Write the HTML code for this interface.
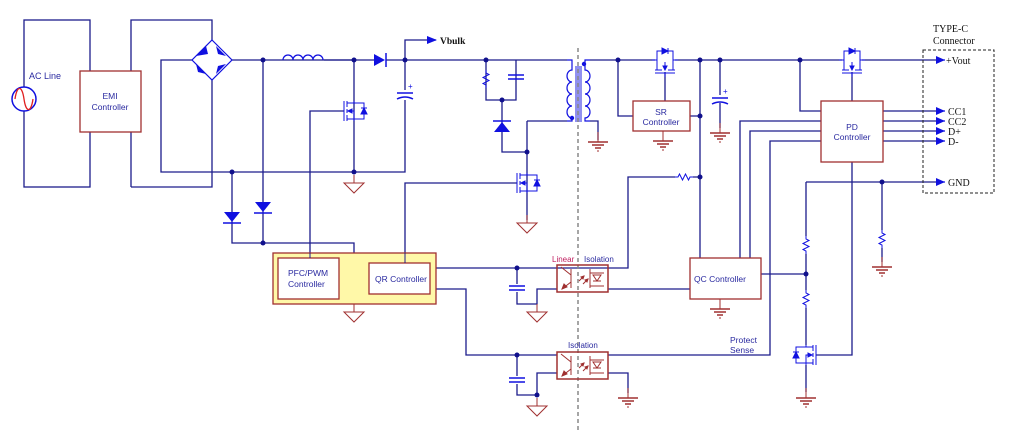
<!DOCTYPE html>
<html><head><meta charset="utf-8"><style>
html,body{margin:0;padding:0;background:#fff;}
svg{display:block;font-family:"Liberation Sans",sans-serif;}
</style></head><body>
<svg width="1012" height="434" viewBox="0 0 1012 434" xmlns="http://www.w3.org/2000/svg">
<defs>
<marker id="ar" markerWidth="10" markerHeight="8" refX="9" refY="4" orient="auto" markerUnits="userSpaceOnUse"><path d="M0,0 L10,4 L0,8 z" fill="#1010e0"/></marker>
<g id="gnd"><line x1="0" y1="0" x2="0" y2="8" stroke="#a03030"/><path d="M-10,8 L10,8 L0,18 z" fill="none" stroke="#a03030"/></g>
<g id="egnd"><line x1="0" y1="0" x2="0" y2="10" stroke="#a03030"/><line x1="-10" y1="10" x2="10" y2="10" stroke="#a03030" stroke-width="1.5"/><line x1="-6" y1="13" x2="6" y2="13" stroke="#a03030" stroke-width="1.5"/><line x1="-3" y1="16" x2="3" y2="16" stroke="#a03030" stroke-width="1.5"/><line x1="-1" y1="19" x2="1" y2="19" stroke="#a03030"/></g>
<g id="res"><path d="M0,0 L0,3 L3,4.5 L-3,7.5 L3,10.5 L-3,13.5 L0,15 L0,18" fill="none" stroke="#1010e0"/></g>
<g id="hres"><path d="M0,0 L3,0 L4.5,-3 L7.5,3 L10.5,-3 L13.5,3 L15,0 L18,0" fill="none" stroke="#1010e0"/></g>
<g id="cap"><line x1="-8" y1="-2" x2="8" y2="-2" stroke="#1010e0" stroke-width="1.5"/><line x1="-8" y1="2" x2="8" y2="2" stroke="#1010e0" stroke-width="1.5"/></g>
<g id="pcap"><line x1="-8" y1="-2" x2="8" y2="-2" stroke="#1010e0" stroke-width="1.5"/><path d="M-8,4 Q0,0 8,4" fill="none" stroke="#1010e0" stroke-width="1.5"/><text x="3" y="-6" font-size="8" fill="#1010e0">+</text></g>
<g id="nmos" stroke="#1010e0" fill="none"><line x1="-10" y1="-10" x2="-10" y2="10"/><line x1="-7" y1="-10" x2="-7" y2="-4"/><line x1="-7" y1="-2" x2="-7" y2="2"/><line x1="-7" y1="4" x2="-7" y2="10"/><path d="M-7,-8 L0,-8 L0,-10 M-7,8 L0,8 L0,10 M-7,0 L0,0 L0,8"/><path d="M-6,0 L-2,-2 L-2,2 z" fill="#1010e0"/><path d="M0,-8 L10,-8 L10,8 L0,8"/><path d="M7,3 L13,3 L10,-3 z" fill="#1010e0"/><line x1="7" y1="-3" x2="13" y2="-3"/></g>
<g id="pmos" stroke="#1010e0" fill="none"><line x1="-10" y1="5" x2="10" y2="5"/><line x1="-10" y1="2" x2="-3" y2="2"/><line x1="3" y1="2" x2="10" y2="2"/><path d="M-8,2 L-8,-8 L-13,-8 M8,2 L8,-8 L13,-8 M0,2 L0,-6"/><path d="M-2,-2 L2,-2 L0,2 z" fill="#1010e0"/><path d="M-8,-8 L-8,-17 L8,-17 L8,-8"/><path d="M-3,-20 L-3,-14 L3,-17 z" fill="#1010e0"/><line x1="3" y1="-20" x2="3" y2="-14"/><line x1="0" y1="5" x2="0" y2="9"/></g>
<g id="opto" stroke="#a03030" fill="none"><rect x="0" y="0" width="51" height="27" stroke-width="1.5"/><line x1="14" y1="4" x2="14" y2="23"/><path d="M14,10 L4,2 M14,17 L5,24"/><path d="M5,24 L7,19 L10,22 z" fill="#a03030"/><path d="M22,16 L27,11 M26,19 L31,14" /><path d="M27,11 L24,12 L26,14 z M31,14 L28,15 L30,17 z" fill="#a03030"/><path d="M33,4 L33,23 M33,8 L47,8 M33,21 L47,21"/><path d="M36,10 L44,10 L40,16 z"/><line x1="36" y1="16" x2="44" y2="16"/></g>
</defs>
<g fill="none" stroke="#1c1c8c" stroke-width="1.3">
<rect x="24" y="20" width="66" height="167"/>
<path d="M131,187 L131,20 L212,20 L212,40 M212,80 L212,187 L131,187"/>
<path d="M192,60 L161,60 L161,172 L405,172 L405,100"/>
<path d="M232,60 L354,60"/>
<path d="M324,60 L374,60 M386,60 L567,60"/>
<path d="M405,60 L405,40 L436,40" marker-end="url(#ar)"/>
<path d="M263,60 L263,243 M232,172 L232,243 L354,243 L354,253"/>
<path d="M354,60 L354,172 M405,60 L405,90"/>
<path d="M310,260 L310,111 L344,111"/>
<path d="M486,60 L486,100 L516,100 L516,60 M502,100 L502,152 L527,152 M527,121 L567,121 M527,121 L527,220"/>
<path d="M405,263 L405,183 L517,183"/>
<path d="M436,268 L628,268 L628,177 L675,177 M693,177 L700,177"/>
<path d="M436,289 L466,289 L466,355 L557,355"/>
<path d="M517,268 L517,284 M517,292 L517,304 L537,304 L537,289 L557,289"/>
<path d="M517,355 L517,376 M517,384 L517,395 L537,395 L537,373 L557,373"/>
<path d="M608,289 L690,289 M608,373 L628,373 L628,393"/>
<path d="M608,355 L770,355 L770,141 L821,141 M740,258 L740,121 L821,121 M750,258 L750,131 L821,131 M700,258 L700,60"/>
<path d="M590,60 L655,60 M675,60 L842,60 M862,60 L938,60"/>
<path d="M590,121 L598,121 L598,140"/>
<path d="M618,60 L618,116 L633,116 M690,116 L700,116 M665,72 L665,101 M720,60 L720,95 M720,103 L720,128"/>
<path d="M800,60 L800,111 L821,111 M852,72 L852,101"/>
<path d="M883,111 L938,111 M883,121 L938,121 M883,131 L938,131 M883,141 L938,141"/>
<path d="M806,182 L938,182 M806,182 L806,236 M806,254 L806,290 M806,308 L806,345 M806,365 L806,392 M882,182 L882,230 M882,248 L882,262"/>
<path d="M852,162 L852,355 L816,355 M761,274 L806,274"/>
</g>
<g stroke="#1010e0" stroke-width="1.3" fill="none">
<path d="M938,60 L945,60 M938,111 L945,111 M938,121 L945,121 M938,131 L945,131 M938,141 L945,141 M938,182 L945,182"/>
</g>
<g fill="#1010e0">
<path d="M936,56 L945,60 L936,64z M936,107 L945,111 L936,115z M936,117 L945,121 L936,125z M936,127 L945,131 L936,135z M936,137 L945,141 L936,145z M936,178 L945,182 L936,186z"/>
</g>
<circle cx="24" cy="99" r="12" fill="#fff" stroke="#1010e0" stroke-width="1.5"/>
<path d="M15,99 C17,85 22,85 24,99 C26,113 31,113 33,99" fill="none" stroke="#e02020" stroke-width="1.3"/>
<text x="29" y="79" font-size="9" fill="#2a2aa0">AC Line</text>
<rect x="80" y="71" width="61" height="61" fill="#fff" stroke="#a03030" stroke-width="1.3"/>
<text x="110" y="99" font-size="8.5" fill="#2a2aa0" text-anchor="middle">EMI</text>
<text x="110" y="110" font-size="8.5" fill="#2a2aa0" text-anchor="middle">Controller</text>
<path d="M212,40 L232,60 L212,80 L192,60 Z" fill="none" stroke="#1010e0" stroke-width="1.2"/>
<g fill="#1010e0"><path d="M196,56 L206,46 L208,54z M216,46 L226,56 L218,54z M196,64 L206,74 L198,72z M218,66 L226,64 L216,74z"/></g>
<path d="M283,60 a5,5 0 0 1 10,0 a5,5 0 0 1 10,0 a5,5 0 0 1 10,0 a5,5 0 0 1 10,0" fill="none" stroke="#1010e0" stroke-width="1.3"/>
<path d="M374,54 L374,66 L385,60z" fill="#1010e0"/><line x1="386" y1="53" x2="386" y2="67" stroke="#1010e0" stroke-width="1.5"/>
<path d="M224,212 L240,212 L232,222z" fill="#1010e0"/><line x1="223" y1="223" x2="241" y2="223" stroke="#1010e0" stroke-width="1.5"/>
<path d="M255,202 L271,202 L263,212z" fill="#1010e0"/><line x1="254" y1="213" x2="272" y2="213" stroke="#1010e0" stroke-width="1.5"/>
<path d="M494,132 L510,132 L502,122z" fill="#1010e0"/><line x1="493" y1="121" x2="511" y2="121" stroke="#1010e0" stroke-width="1.5"/>
<use href="#pcap" x="405" y="95"/>
<use href="#cap" x="516" y="77"/>
<use href="#hres" x="0" y="0" transform="translate(486,70) rotate(90)"/>
<use href="#pcap" x="720" y="100"/>
<use href="#cap" x="517" y="288"/>
<use href="#cap" x="517" y="380"/>
<use href="#nmos" x="354" y="111"/>
<use href="#nmos" x="527" y="183"/>
<use href="#pmos" x="665" y="68"/>
<use href="#pmos" x="852" y="68"/>
<g transform="translate(806,355) scale(-1,1)"><use href="#nmos"/></g>
<use href="#hres" x="675" y="177"/>
<use href="#res" x="806" y="236"/>
<use href="#res" x="806" y="290"/>
<use href="#res" x="882" y="230"/>
<path d="M567,60 L572,60 L572,70 a5,6 0 0 0 0,12 a5,6 0 0 0 0,12 a5,6 0 0 0 0,12 a5,6 0 0 0 0,12 L572,121 L567,121" fill="none" stroke="#1010e0" stroke-width="1.2"/>
<path d="M590,60 L585,60 L585,70 a5,6 0 0 1 0,12 a5,6 0 0 1 0,12 a5,6 0 0 1 0,12 a5,6 0 0 1 0,12 L585,121 L590,121" fill="none" stroke="#1010e0" stroke-width="1.2"/>
<rect x="575" y="66" width="7" height="56" fill="#9090f0"/>
<line x1="578" y1="48" x2="578" y2="430" stroke="#888" stroke-width="1.5" stroke-dasharray="4,3"/>
<circle cx="572" cy="118" r="2.2" fill="#1010e0"/><circle cx="584" cy="64" r="2.2" fill="#1010e0"/>
<use href="#gnd" x="354" y="175"/>
<use href="#gnd" x="527" y="215"/>
<use href="#gnd" x="354" y="304"/>
<use href="#gnd" x="537" y="304"/>
<use href="#gnd" x="537" y="398"/>
<use href="#egnd" x="598" y="132"/>
<use href="#egnd" x="663" y="131"/>
<use href="#egnd" x="720" y="123"/>
<use href="#egnd" x="628" y="388"/>
<use href="#egnd" x="720" y="299"/>
<use href="#egnd" x="806" y="388"/>
<use href="#egnd" x="882" y="257"/>
<g fill="#10108c">
<circle cx="263" cy="60" r="2.5"/><circle cx="354" cy="60" r="2.5"/><circle cx="405" cy="60" r="2.5"/>
<circle cx="232" cy="172" r="2.5"/><circle cx="354" cy="172" r="2.5"/><circle cx="263" cy="243" r="2.5"/>
<circle cx="486" cy="60" r="2.5"/><circle cx="502" cy="100" r="2.5"/><circle cx="527" cy="152" r="2.5"/>
<circle cx="618" cy="60" r="2.5"/><circle cx="700" cy="60" r="2.5"/><circle cx="720" cy="60" r="2.5"/><circle cx="800" cy="60" r="2.5"/>
<circle cx="700" cy="116" r="2.5"/><circle cx="700" cy="177" r="2.5"/><circle cx="882" cy="182" r="2.5"/>
<circle cx="517" cy="268" r="2.5"/><circle cx="517" cy="355" r="2.5"/><circle cx="537" cy="395" r="2.5"/><circle cx="806" cy="274" r="2.5"/>
</g>
<rect x="273" y="253" width="163" height="51" fill="#fff8a8" stroke="#a03030" stroke-width="1.3"/>
<rect x="278" y="258" width="61" height="41" fill="#fff" stroke="#a03030" stroke-width="1.3"/>
<rect x="369" y="263" width="61" height="31" fill="#fff" stroke="#a03030" stroke-width="1.3"/>
<rect x="633" y="101" width="57" height="30" fill="#fff" stroke="#a03030" stroke-width="1.3"/>
<rect x="821" y="101" width="62" height="61" fill="#fff" stroke="#a03030" stroke-width="1.3"/>
<rect x="690" y="258" width="71" height="41" fill="#fff" stroke="#a03030" stroke-width="1.3"/>
<line x1="310" y1="253" x2="310" y2="258" stroke="#1c1c8c"/>
<line x1="405" y1="253" x2="405" y2="263" stroke="#1c1c8c"/>
<rect x="923" y="50" width="71" height="143" fill="none" stroke="#222" stroke-dasharray="3,2"/>
<use href="#opto" x="557" y="265"/>
<use href="#opto" x="557" y="352"/>
<g font-size="8.5" fill="#2a2aa0">
<text x="288" y="276">PFC/PWM</text><text x="288" y="287">Controller</text>
<text x="375" y="282">QR Controller</text>
<text x="661" y="115" text-anchor="middle">SR</text><text x="661" y="125" text-anchor="middle">Controller</text>
<text x="852" y="130" text-anchor="middle">PD</text><text x="852" y="140" text-anchor="middle">Controller</text>
<text x="694" y="282">QC Controller</text>
<text x="730" y="343">Protect</text><text x="730" y="353">Sense</text>
<text x="552" y="262" fill="#c02060" font-size="8">Linear</text><text x="584" y="262" font-size="8">Isolation</text>
<text x="568" y="348" font-size="8">Isolation</text>
</g>
<g font-family="Liberation Serif, serif" font-size="10" fill="#111">
<text x="440" y="44" font-weight="bold" font-size="9.5">Vbulk</text>
<text x="933" y="32">TYPE-C</text><text x="933" y="44">Connector</text>
<text x="946" y="64">+Vout</text>
<text x="948" y="115">CC1</text><text x="948" y="125">CC2</text><text x="948" y="135">D+</text><text x="948" y="145">D-</text>
<text x="948" y="186">GND</text>
</g>
</svg>
</body></html>
